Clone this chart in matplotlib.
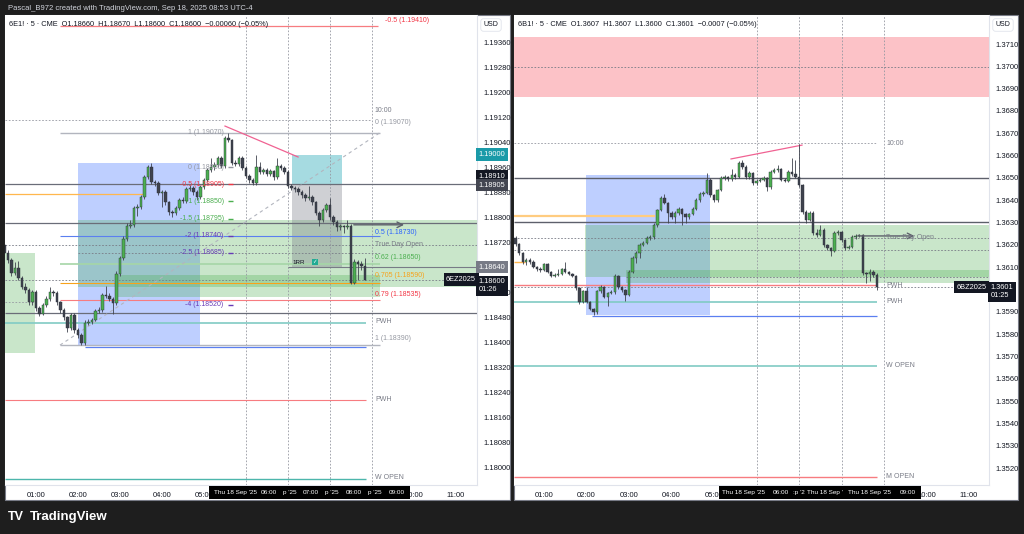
import numpy as np
import matplotlib.pyplot as plt
from matplotlib.patches import Rectangle
from matplotlib.transforms import blended_transform_factory

plt.rcParams['font.family'] = ['Liberation Sans', 'DejaVu Sans']

W, H = 1024, 534

# 6E1! - 5 min bars, first bar 00:15, last bar 08:50
e_start = 0.25
e_first_open = 1.18710
e_close = [
    1.18685, 1.18662, 1.18621, 1.18637, 1.18605, 1.18576, 1.18566, 1.18528, 1.18560, 1.18509,
    1.18490, 1.18518, 1.18538, 1.18560, 1.18557, 1.18528, 1.18502, 1.18480, 1.18445, 1.18486,
    1.18438, 1.18422, 1.18397, 1.18461, 1.18464, 1.18470, 1.18499, 1.18502, 1.18550, 1.18547,
    1.18538, 1.18525, 1.18618, 1.18669, 1.18730, 1.18771, 1.18774, 1.18829, 1.18832, 1.18864,
    1.18928, 1.18960, 1.18912, 1.18909, 1.18877, 1.18880, 1.18848, 1.18816, 1.18813, 1.18829,
    1.18854, 1.18851, 1.18890, 1.18893, 1.18880, 1.18864, 1.18896, 1.18918, 1.18950, 1.18960,
    1.18966, 1.18989, 1.18963, 1.19053, 1.19046, 1.18973, 1.18970, 1.18989, 1.18957, 1.18931,
    1.18918, 1.18909, 1.18960, 1.18944, 1.18950, 1.18938, 1.18947, 1.18928, 1.18963, 1.18957,
    1.18944, 1.18899, 1.18893, 1.18890, 1.18880, 1.18870, 1.18861, 1.18864, 1.18848, 1.18813,
    1.18790, 1.18822, 1.18838, 1.18800, 1.18784, 1.18768, 1.18771, 1.18768, 1.18771, 1.18590,
    1.18656, 1.18650, 1.18643, 1.18600]
e_high = [
    1.18722, 1.18694, 1.18668, 1.18655, 1.18660, 1.18612, 1.18590, 1.18572, 1.18566, 1.18565,
    1.18514, 1.18524, 1.18546, 1.18576, 1.18568, 1.18562, 1.18532, 1.18508, 1.18484, 1.18492,
    1.18494, 1.18444, 1.18428, 1.18470, 1.18474, 1.18478, 1.18506, 1.18512, 1.18556, 1.18580,
    1.18556, 1.18544, 1.18626, 1.18676, 1.18738, 1.18780, 1.18790, 1.18836, 1.18842, 1.18872,
    1.18936, 1.18968, 1.18972, 1.18920, 1.18914, 1.18888, 1.18886, 1.18852, 1.18824, 1.18836,
    1.18860, 1.18864, 1.18896, 1.18902, 1.18900, 1.18886, 1.18902, 1.18926, 1.18956, 1.18990,
    1.18976, 1.18996, 1.18994, 1.19060, 1.19070, 1.19050, 1.18982, 1.18996, 1.18994, 1.18962,
    1.18938, 1.18924, 1.19000, 1.18976, 1.18958, 1.18956, 1.18954, 1.18952, 1.18990, 1.18970,
    1.18962, 1.18950, 1.18906, 1.18900, 1.18896, 1.18886, 1.18876, 1.18900, 1.18870, 1.18852,
    1.18818, 1.18830, 1.18846, 1.18860, 1.18806, 1.18790, 1.18778, 1.18776, 1.18790, 1.18778,
    1.18666, 1.18664, 1.18660, 1.18670]
e_low = [
    1.18676, 1.18652, 1.18612, 1.18614, 1.18598, 1.18570, 1.18556, 1.18518, 1.18520, 1.18500,
    1.18482, 1.18486, 1.18512, 1.18532, 1.18548, 1.18520, 1.18494, 1.18472, 1.18432, 1.18438,
    1.18430, 1.18412, 1.18390, 1.18392, 1.18454, 1.18458, 1.18466, 1.18492, 1.18496, 1.18540,
    1.18530, 1.18490, 1.18520, 1.18612, 1.18664, 1.18722, 1.18764, 1.18768, 1.18804, 1.18826,
    1.18858, 1.18922, 1.18905, 1.18900, 1.18870, 1.18832, 1.18840, 1.18806, 1.18800, 1.18806,
    1.18822, 1.18844, 1.18846, 1.18882, 1.18872, 1.18856, 1.18858, 1.18890, 1.18912, 1.18944,
    1.18952, 1.18960, 1.18956, 1.18958, 1.19040, 1.18966, 1.18962, 1.18964, 1.18950, 1.18924,
    1.18910, 1.18902, 1.18904, 1.18938, 1.18938, 1.18930, 1.18932, 1.18920, 1.18922, 1.18950,
    1.18938, 1.18892, 1.18886, 1.18880, 1.18872, 1.18862, 1.18852, 1.18854, 1.18840, 1.18806,
    1.18770, 1.18784, 1.18816, 1.18790, 1.18774, 1.18756, 1.18760, 1.18750, 1.18762, 1.18585,
    1.18586, 1.18600, 1.18632, 1.18600]

# 6B1! - 5 min bars, first bar 00:20, last bar 08:50
b_start = 20 / 60
b_first_open = 1.36231
b_close = [
    1.36204, 1.36164, 1.36123, 1.36132, 1.36123, 1.36101, 1.36092, 1.36088, 1.36114, 1.36079,
    1.36061, 1.36065, 1.36070, 1.36092, 1.36079, 1.36070, 1.36061, 1.36007, 1.35944, 1.35993,
    1.35944, 1.35913, 1.35899, 1.35993, 1.36011, 1.35967, 1.35985, 1.35989, 1.36061, 1.36011,
    1.35998, 1.35976, 1.36079, 1.36141, 1.36164, 1.36200, 1.36208, 1.36231, 1.36235, 1.36289,
    1.36356, 1.36410, 1.36388, 1.36343, 1.36325, 1.36343, 1.36361, 1.36338, 1.36325, 1.36338,
    1.36361, 1.36401, 1.36428, 1.36432, 1.36491, 1.36423, 1.36401, 1.36446, 1.36500, 1.36504,
    1.36495, 1.36513, 1.36504, 1.36567, 1.36549, 1.36504, 1.36522, 1.36477, 1.36486, 1.36491,
    1.36500, 1.36459, 1.36527, 1.36535, 1.36540, 1.36491, 1.36486, 1.36527, 1.36518, 1.36504,
    1.36468, 1.36347, 1.36312, 1.36343, 1.36253, 1.36244, 1.36267, 1.36200, 1.36186, 1.36173,
    1.36253, 1.36258, 1.36222, 1.36186, 1.36191, 1.36235, 1.36240, 1.36244, 1.36074, 1.36070,
    1.36079, 1.36065, 1.36010]
b_high = [
    1.36240, 1.36210, 1.36170, 1.36140, 1.36140, 1.36130, 1.36106, 1.36100, 1.36120, 1.36118,
    1.36084, 1.36072, 1.36090, 1.36098, 1.36125, 1.36085, 1.36076, 1.36066, 1.36012, 1.36000,
    1.36010, 1.35950, 1.35918, 1.36000, 1.36018, 1.36016, 1.35990, 1.36000, 1.36068, 1.36066,
    1.36016, 1.36004, 1.36086, 1.36148, 1.36172, 1.36208, 1.36216, 1.36238, 1.36244, 1.36296,
    1.36362, 1.36418, 1.36430, 1.36394, 1.36350, 1.36350, 1.36368, 1.36366, 1.36344, 1.36344,
    1.36368, 1.36408, 1.36436, 1.36440, 1.36520, 1.36498, 1.36430, 1.36452, 1.36508, 1.36512,
    1.36510, 1.36540, 1.36520, 1.36575, 1.36580, 1.36556, 1.36530, 1.36528, 1.36494, 1.36500,
    1.36508, 1.36506, 1.36535, 1.36545, 1.36560, 1.36546, 1.36498, 1.36534, 1.36590, 1.36580,
    1.36650, 1.36474, 1.36354, 1.36350, 1.36350, 1.36270, 1.36290, 1.36274, 1.36206, 1.36192,
    1.36260, 1.36266, 1.36264, 1.36228, 1.36198, 1.36242, 1.36248, 1.36250, 1.36250, 1.36080,
    1.36090, 1.36086, 1.36072]
b_low = [
    1.36196, 1.36156, 1.36115, 1.36110, 1.36115, 1.36095, 1.36085, 1.36080, 1.36082, 1.36072,
    1.36054, 1.36055, 1.36060, 1.36066, 1.36074, 1.36064, 1.36055, 1.36000, 1.35936, 1.35938,
    1.35938, 1.35906, 1.35886, 1.35892, 1.35985, 1.35960, 1.35925, 1.35978, 1.35982, 1.36004,
    1.35990, 1.35950, 1.35970, 1.36072, 1.36120, 1.36140, 1.36194, 1.36202, 1.36224, 1.36228,
    1.36282, 1.36350, 1.36382, 1.36300, 1.36318, 1.36300, 1.36336, 1.36290, 1.36300, 1.36318,
    1.36332, 1.36354, 1.36394, 1.36420, 1.36426, 1.36416, 1.36394, 1.36394, 1.36440, 1.36492,
    1.36488, 1.36488, 1.36496, 1.36498, 1.36542, 1.36496, 1.36496, 1.36470, 1.36470, 1.36480,
    1.36484, 1.36440, 1.36452, 1.36520, 1.36528, 1.36484, 1.36480, 1.36480, 1.36510, 1.36498,
    1.36460, 1.36340, 1.36300, 1.36306, 1.36246, 1.36236, 1.36238, 1.36192, 1.36178, 1.36150,
    1.36166, 1.36246, 1.36214, 1.36178, 1.36180, 1.36184, 1.36228, 1.36234, 1.36066, 1.36030,
    1.36040, 1.36058, 1.36000]

hours = [1, 2, 3, 4, 5, 6, 7, 8, 9, 10, 11]
hour_labels = ['01:00', '02:00', '03:00', '04:00', '05:00', '06:00',
               '07:00', '08:00', '09:00', '10:00', '11:00']
session_marks = [6, 7, 8, 9]  # these hours sit under the black crosshair box

e_ticks = [1.19360, 1.19280, 1.19200, 1.19120, 1.19040, 1.18960, 1.18880, 1.18800, 1.18720,
           1.18640, 1.18560, 1.18480, 1.18400, 1.18320, 1.18240, 1.18160, 1.18080, 1.18000]
e_hidden = [1.18640]  # under the 1.18640 tag
b_ticks = [1.3710, 1.3700, 1.3690, 1.3680, 1.3670, 1.3660, 1.3650, 1.3640, 1.3630, 1.3620,
           1.3610, 1.3600, 1.3590, 1.3580, 1.3570, 1.3560, 1.3550, 1.3540, 1.3530, 1.3520]
b_hidden = [1.3600]  # under the last price tag

# fib levels (6E, left drawing)
fib_left = [1.19070, 1.18960, 1.18905, 1.18850, 1.18795, 1.18740, 1.18685, 1.18520]
fib_left_txt = ['1 (1.19070)', '0 (1.18960)', '-0.5 (1.18905)', '-1 (1.18850)',
                '-1.5 (1.18795)', '-2 (1.18740)', '-2.5 (1.18685)', '-4 (1.18520)']
fib_left_col = ['#9598a1', '#9598a1', '#f23645', '#4caf50', '#4caf50',
                '#673ab7', '#673ab7', '#673ab7']

GREEN = '#4caf50'
DARK = '#3f434e'
GRID = '#9598a1'
TXT = '#131722'

fig = plt.figure(figsize=(W / 100, H / 100), dpi=100, facecolor='#1e1e1e')


def fr(x0, y0, x1, y1):
    return [x0 / W, 1 - y1 / H, (x1 - x0) / W, (y1 - y0) / H]


def ftext(x, y, s, **kw):
    fig.text(x / W, 1 - y / H, s, **kw)


def candles(ax, start, o0, closes, highs, lows, minh):
    opens = [o0] + closes[:-1]
    t = start + np.arange(len(closes)) / 12
    for ti, o, h, l, c in zip(t, opens, highs, lows, closes):
        ax.vlines(ti, l, h, color=DARK, lw=0.6, zorder=4)
        ax.add_patch(Rectangle((ti - 0.028, min(o, c)), 0.056, max(abs(c - o), minh),
                               fc=GREEN if c >= o else DARK, ec='#2a2e39', lw=0.3, zorder=5))


def panel(px0, px1, pright, xlim, ylim, ticks, hidden, fmt):
    fig.patches.append(Rectangle((px0 / W, 1 - 500 / H), (pright - px0) / W, 485 / H,
                                 transform=fig.transFigure, fc='white', ec='#787b86',
                                 lw=0.8, zorder=-1))
    ax = fig.add_axes(fr(px0, 15, px1, 485))
    ax.set_xlim(*xlim)
    ax.set_ylim(*ylim)
    for s in ['left', 'top']:
        ax.spines[s].set_visible(False)
    for s in ['right', 'bottom']:
        ax.spines[s].set_color('#e0e3eb')
    ax.yaxis.tick_right()
    ax.set_yticks(ticks)
    ax.set_yticklabels(['' if v in hidden else fmt.format(v) for v in ticks])
    ax.tick_params(axis='y', length=0, pad=5, labelsize=5.5, labelcolor=TXT)
    ax.set_xticks(hours)
    ax.set_xticklabels(['' if h in session_marks else s for h, s in zip(hours, hour_labels)])
    ax.tick_params(axis='x', length=0, pad=5, labelsize=5.5, labelcolor=TXT)
    ax.vlines(session_marks, ylim[0], ylim[1], color=GRID, lw=0.6,
              linestyles=(0, (2, 2)), zorder=2)
    return ax


def price_tag(ax, y, s, fc, tc='white', x=1.004):
    tr = blended_transform_factory(ax.transAxes, ax.transData)
    ax.text(x, y, s, transform=tr, fontsize=5.3, color=tc, va='center', ha='left',
            linespacing=1.25, clip_on=False, zorder=20,
            bbox=dict(boxstyle='square,pad=0.35', fc=fc, ec='none'))


def box(ax, x0, x1, y0, y1, color, alpha):
    ax.add_patch(Rectangle((x0, y0), x1 - x0, y1 - y0, fc=color, alpha=alpha,
                           ec='none', zorder=1))


# ---------------- left panel: 6E ----------------
axL = panel(5, 477, 510, (0.262, 11.5), (1.179424, 1.194464), e_ticks, e_hidden, '{:.5f}')
XL = axL.get_xlim()

box(axL, 0.262, 0.976, 1.18365, 1.18685, GREEN, 0.3)
box(axL, 2.0, 4.905, 1.18388, 1.18973, '#2962ff', 0.3)
box(axL, 2.0, 11.5, 1.18576, 1.18790, GREEN, 0.3)
box(axL, 2.93, 9.19, 1.18544, 1.18614, GREEN, 0.3)
box(axL, 7.095, 8.286, 1.18906, 1.18998, '#22a5b5', 0.4)
box(axL, 7.095, 8.286, 1.18640, 1.18906, '#787b86', 0.35)

axL.hlines([1.18905, 1.18781, 1.18493], *XL, color='#6a6d78', lw=0.9, zorder=3)
axL.hlines([1.18710, 1.18600], *XL, color='#787b86', lw=0.6, linestyles=(0, (2, 2)), zorder=3)
axL.hlines(1.19110, 0.262, 8.95, color=GRID, lw=0.6, linestyles=(0, (2, 2)), zorder=3)
axL.hlines(1.18685, 2.0, 9.19, color='#787b86', lw=0.6, linestyles=(0, (2, 2)), zorder=3)
axL.hlines(1.18528, 0.262, 0.976, color=GRID, lw=0.6, linestyles=(0, (2, 2)), zorder=3)
axL.hlines(1.19410, 1.571, 9.14, color='#f77c80', lw=0.9, zorder=3)
axL.hlines([1.19070, 1.18390], 1.571, 9.19, color='#b2b5be', lw=1.0, zorder=3)
axL.hlines(1.18874, 0.262, 3.6, color='#ffb74d', lw=0.9, zorder=3)
axL.hlines(1.18740, 1.571, 9.19, color='#5b7ff0', lw=0.8, zorder=3)
axL.hlines(1.18650, 1.571, 9.19, color='#a5d6a7', lw=1.2, zorder=3)
axL.hlines(1.18640, 7.0, 11.5, color='#787b86', lw=0.8, zorder=3)
axL.hlines(1.18590, 1.571, 9.19, color='#f7a21b', lw=0.8, zorder=3)
axL.hlines(1.18535, 1.571, 9.19, color='#f77c80', lw=0.8, zorder=3)
axL.hlines(1.18461, 0.262, 8.857, color='#80cbc4', lw=1.2, zorder=3)
axL.hlines(1.18384, 2.17, 8.857, color='#5b7ff0', lw=0.9, zorder=3)
axL.hlines(1.18215, 0.262, 8.857, color='#f77c80', lw=0.8, zorder=3)
axL.hlines(1.17963, 0.262, 8.857, color='#4db6ac', lw=1.0, zorder=3)
axL.plot([1.571, 9.19], [1.18390, 1.19070], color='#b2b5be', lw=0.8,
         ls=(0, (3, 3)), zorder=3)
axL.plot([5.5, 7.24], [1.19091, 1.18992], color='#f06292', lw=0.9, zorder=3)
axL.annotate('', xy=(9.83, 1.18775), xytext=(8.5, 1.18775), zorder=6,
             arrowprops=dict(arrowstyle='->', color='#5d606b', lw=1.0))

candles(axL, e_start, e_first_open, e_close, e_high, e_low, 0.00003)

for lv, t, c in zip(fib_left, fib_left_txt, fib_left_col):
    axL.text(5.47, lv, t, fontsize=5, color=c, ha='right', va='center', zorder=7)
    if lv < 1.19000:
        axL.hlines(lv, 5.58, 5.68, color=c, lw=1.0, zorder=7)

lab_x = 9.07
for y, s, c in [(1.19140, '10:00', '#787b86'), (1.19104, '0 (1.19070)', GRID),
                (1.18752, '0.5 (1.18730)', '#2962ff'), (1.18712, 'True Day Open', '#787b86'),
                (1.18670, '0.62 (1.18650)', '#4caf50'), (1.18612, '0.705 (1.18590)', '#f7a21b'),
                (1.18552, '0.79 (1.18535)', '#f23645'), (1.18467, 'PWH', '#787b86'),
                (1.18410, '1 (1.18390)', GRID), (1.18217, 'PWH', '#787b86'),
                (1.17965, 'W OPEN', '#787b86')]:
    axL.text(lab_x, y, s, fontsize=5, color=c, va='center', zorder=7)
axL.text(9.31, 1.19428, '-0.5 (1.19410)', fontsize=5, color='#f23645', va='center', zorder=7)
axL.text(7.1, 1.18656, '1RR', fontsize=4.5, color=TXT, va='center', zorder=7)
axL.text(7.58, 1.18656, '✓', fontsize=4, color='white', va='center', zorder=7,
         bbox=dict(boxstyle='square,pad=0.15', fc='#22ab94', ec='none'))

price_tag(axL, 1.19000, '1.19000', '#1a9aa8')
price_tag(axL, 1.18930, '1.18910', '#131722')
price_tag(axL, 1.18902, '1.18905', '#434651')
price_tag(axL, 1.18640, '1.18640', '#787b86')
price_tag(axL, 1.18580, '1.18600\n01:26', '#131722')
axL.text(11.12, 1.18600, '6EZ2025', fontsize=5.3, color='white', ha='center', va='center',
         zorder=20, bbox=dict(boxstyle='square,pad=0.35', fc='#131722', ec='none'))

# ---------------- right panel: 6B ----------------
axR = panel(514, 989, 1018, (0.294, 11.47), (1.35124, 1.37230), b_ticks, b_hidden, '{:.4f}')
XR = axR.get_xlim()

box(axR, 0.294, 11.47, 1.36862, 1.37131, '#f7525f', 0.35)
box(axR, 1.99, 4.91, 1.35886, 1.36513, '#2962ff', 0.3)
box(axR, 1.965, 11.47, 1.36056, 1.36289, GREEN, 0.3)
box(axR, 2.93, 11.47, 1.36031, 1.36089, GREEN, 0.3)

axR.hlines([1.36500, 1.36303], *XR, color='#5d606b', lw=1.0, zorder=3)
axR.hlines([1.36997, 1.36231, 1.36177, 1.36010], *XR, color='#787b86', lw=0.6,
           linestyles=(0, (2, 2)), zorder=3)
axR.hlines(1.36056, 2.93, 11.47, color='#787b86', lw=0.6, linestyles=(0, (2, 2)), zorder=3)
axR.hlines(1.36656, 0.294, 8.84, color=GRID, lw=0.6, linestyles=(0, (2, 2)), zorder=3)
axR.hlines(1.36329, 0.294, 3.61, color='#ffcc80', lw=1.6, zorder=3)
axR.hlines(1.36123, 0.294, 0.55, color='#ffb74d', lw=1.0, zorder=3)
axR.hlines(1.36020, 0.294, 8.84, color='#f77c80', lw=1.0, zorder=3)
axR.hlines(1.35944, 0.294, 8.84, color='#80cbc4', lw=1.2, zorder=3)
axR.hlines(1.35882, 2.13, 8.84, color='#5b7ff0', lw=0.9, zorder=3)
axR.hlines(1.35658, 0.294, 8.84, color='#80cbc4', lw=1.2, zorder=3)
axR.hlines(1.35160, 0.294, 8.84, color='#f77c80', lw=1.0, zorder=3)
axR.plot([5.4, 7.07], [1.36585, 1.36647], color='#f06292', lw=0.9, zorder=3)
axR.annotate('', xy=(9.78, 1.36240), xytext=(8.32, 1.36240), zorder=6,
             arrowprops=dict(arrowstyle='->', color='#5d606b', lw=1.0))

candles(axR, b_start, b_first_open, b_close, b_high, b_low, 0.00004)

lab_x = 9.05
for y, s in [(1.36656, '10:00'), (1.36231, 'True Day Open'), (1.36020, 'PWH'),
             (1.35944, 'PWH'), (1.35658, 'W OPEN'), (1.35160, 'M OPEN')]:
    axR.text(lab_x, y, s, fontsize=5, color='#787b86', va='center', zorder=7)

price_tag(axR, 1.35990, '1.3601\n01:25', '#131722')
axR.text(11.05, 1.36010, '6BZ2025', fontsize=5.3, color='white', ha='center', va='center',
         zorder=20, bbox=dict(boxstyle='square,pad=0.35', fc='#131722', ec='none'))

# ---------------- headers, time boxes, footer ----------------
ftext(8, 8, 'Pascal_B972 created with TradingView.com, Sep 18, 2025 08:53 UTC-4',
      fontsize=5.5, color='#d1d4dc', va='center')
ftext(9, 24, '6E1! · 5 · CME  O1.18660  H1.18670  L1.18600  C1.18600  −0.00060 (−0.05%)',
      fontsize=5.3, color=TXT, va='center', zorder=8)
ftext(518, 24, '6B1! · 5 · CME  O1.3607  H1.3607  L1.3600  C1.3601  −0.0007 (−0.05%)',
      fontsize=5.3, color=TXT, va='center', zorder=8)
for x in [491, 1003]:
    ftext(x, 25, 'USD', fontsize=5, color=TXT, ha='center', va='center', zorder=8,
          bbox=dict(boxstyle='round,pad=0.4', fc='white', ec='#e0e3eb', lw=0.6))

for x0, x1, items in [
        (209, 410, [(235, "Thu 18 Sep '25"), (269, '06:00'), (290, "p '25"), (311, '07:00'),
                    (332, "p '25"), (354, '08:00'), (375, "p '25"), (397, '09:00')]),
        (719, 921, [(743, "Thu 18 Sep '25"), (781, '06:00'), (799, ":p '2"),
                    (825, "Thu 18 Sep '"), (870, "Thu 18 Sep '25"), (908, '09:00')])]:
    fig.patches.append(Rectangle((x0 / W, 1 - 499 / H), (x1 - x0) / W, 13 / H,
                                 transform=fig.transFigure, fc='black', ec='none', zorder=9))
    for x, s in items:
        ftext(x, 492.5, s, fontsize=4.6, color='white', ha='center', va='center', zorder=10)

ftext(8, 517, 'TV', fontsize=9, color='white', fontweight='bold', va='center')
ftext(30, 517, 'TradingView', fontsize=9.5, color='white', fontweight='bold', va='center')

fig.savefig('out.png', dpi=100, facecolor=fig.get_facecolor())
